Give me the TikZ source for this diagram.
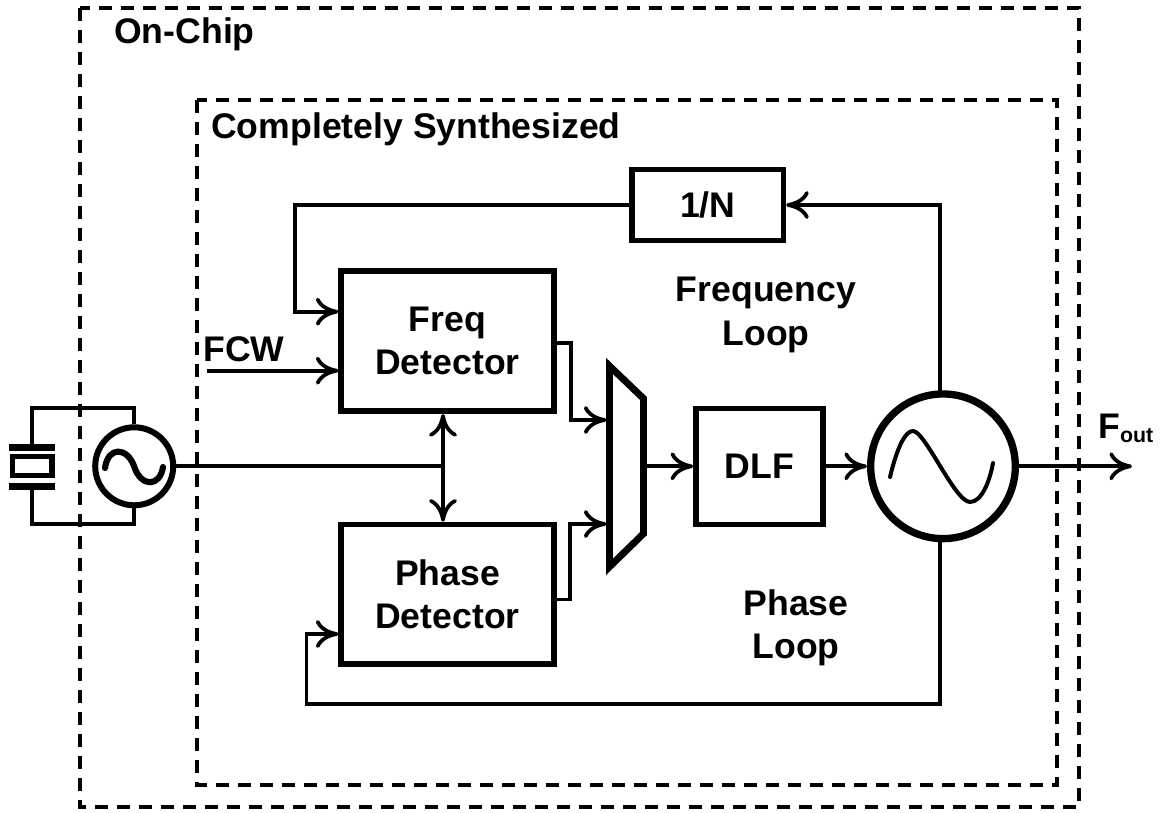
\documentclass[tikz,border=0pt]{standalone}
\usepackage{fontspec}
\setmainfont{Liberation Sans}
\usetikzlibrary{arrows.meta,calc}
\tikzset{
  x=.75pt,y=-.75pt,
  cmtip/.tip={Computer Modern Rightarrow[length=17pt,width=21pt,line width=2.8pt]},
  wire/.style={line width=2.9pt,line join=miter},
  arr/.style={wire,-cmtip},
  darr/.style={wire,cmtip-cmtip},
  dashbox/.style={line width=3.2pt,dash pattern=on 9.75pt off 6.75pt},
  blockbox/.style={draw,line width=4.2pt,rectangle,inner sep=0pt,font=\bfseries\fontsize{26.7}{32.5}\selectfont,align=center},
  lab/.style={inner sep=0pt,font=\bfseries\fontsize{26.7}{32.5}\selectfont,align=center},
  osc/.style={draw,circle,inner sep=0pt},
  sine/.style={line cap=round}
}
\begin{document}
\begin{tikzpicture}
\useasboundingbox (0,0) rectangle (1160,813);
% dashed boundaries
\draw[dashbox] (80,8) rectangle (1079,807);
\draw[dashbox] (197,100) rectangle (1057,785);
% nodes
\node[blockbox,minimum width=113.5pt,minimum height=53pt] (div) at (707.7,205) {1/N};
\node[blockbox,minimum width=159.75pt,minimum height=105pt] (fd) at (447.5,341) {Freq\\Detector};
\node[blockbox,minimum width=159.75pt,minimum height=104.6pt] (pd) at (447.5,594.2) {Phase\\Detector};
\node[blockbox,minimum width=95.25pt,minimum height=87pt] (dlf) at (759.5,466.3) {DLF};
\node[osc,line width=5.5pt,minimum size=108.5pt] (vco) at (943,466.3) {};
\node[osc,line width=4.5pt,minimum size=58.5pt] (xo) at (134.2,466.3) {};
% mux
\coordinate (mtl) at (609.5,366);
\coordinate (mtr) at (643.5,398.5);
\coordinate (mbr) at (643.5,533.6);
\coordinate (mbl) at (609.5,566.8);
\draw[line width=5.2pt,line join=miter] (mtl)--(mtr)--(mbr)--(mbl)--cycle;
\coordinate (mi1) at (606.5,420);
\coordinate (mi2) at (606.5,524);
\coordinate (mo) at (646,466.3);
% crystal
\coordinate (xtop) at (32,444);
\coordinate (xbot) at (32,490);
\fill (9,444) rectangle (55,451);
\fill (9,483) rectangle (55,490);
\draw[line width=3.9pt] (12.5,456.5) rectangle (52,475.5);
\draw[wire] (xtop) -- (32,408) -| (xo.north);
\draw[wire] (xbot) -- (32,524) -| (xo.south);
% sines
\draw[line width=4.6pt,sine] (105,468) .. controls (108,446) and (127,447) .. (134,466) .. controls (141,488) and (160,487) .. (163,467);
\draw[line width=3pt,sine] (890,477) .. controls (898,444) and (906,431) .. (913,431) .. controls (925,431) and (955,502) .. (970,502) .. controls (982,502) and (990,480) .. (993,463);
% connectors
\coordinate (j) at (443,466.3);
\coordinate (fcw) at (207,370.7);
\coordinate (fdin1) at (338.5,311.7);
\coordinate (fdin2) at (338.5,370.7);
\coordinate (pdin) at (338.5,634);
\coordinate (fdo) at (556,343);
\coordinate (pdo) at (556,599.5);
\coordinate (ftop) at (443,414);
\coordinate (pdtop) at (443,521.7);
\coordinate (vt) at (940,391.5);
\coordinate (vb) at (940,541);
\draw[wire] (xo.east) -- (j);
\draw[darr] (ftop) -- (pdtop);
\draw[arr] (div.west) -- (295,205) |- (fdin1);
\draw[arr] (fcw) -- (fdin2);
\draw[arr] (fdo) -- (571,343) |- (mi1);
\draw[arr] (pdo) -- (570,599.5) |- (mi2);
\draw[arr] (mo) -- (dlf.west);
\draw[arr] (dlf.east) -- (vco.west);
\draw[arr] (vt) -- (940,205) -- (div.east);
\draw[arr] (vb) -- (940,704) -- (306.5,704) |- (pdin);
\coordinate (fout) at (1132,466.3);
\draw[arr] (vco.east) -- (fout);
% labels
\node[lab,anchor=base west] (l1) at (114,43.5) {On-Chip};
\node[lab,anchor=base west] (l2) at (211,138.5) {Completely Synthesized};
\node[lab,anchor=base west] (l3) at (203,361) {FCW};
\node[lab] (l4) at (766,315) {Frequency\\Loop};
\node[lab] (l5) at (796,628) {Phase\\Loop};
\node[lab,anchor=base west] (l6) at (1098,438) {F\raisebox{-3.5pt}{\fontsize{16}{18}\selectfont out}};
\end{tikzpicture}
\end{document}
